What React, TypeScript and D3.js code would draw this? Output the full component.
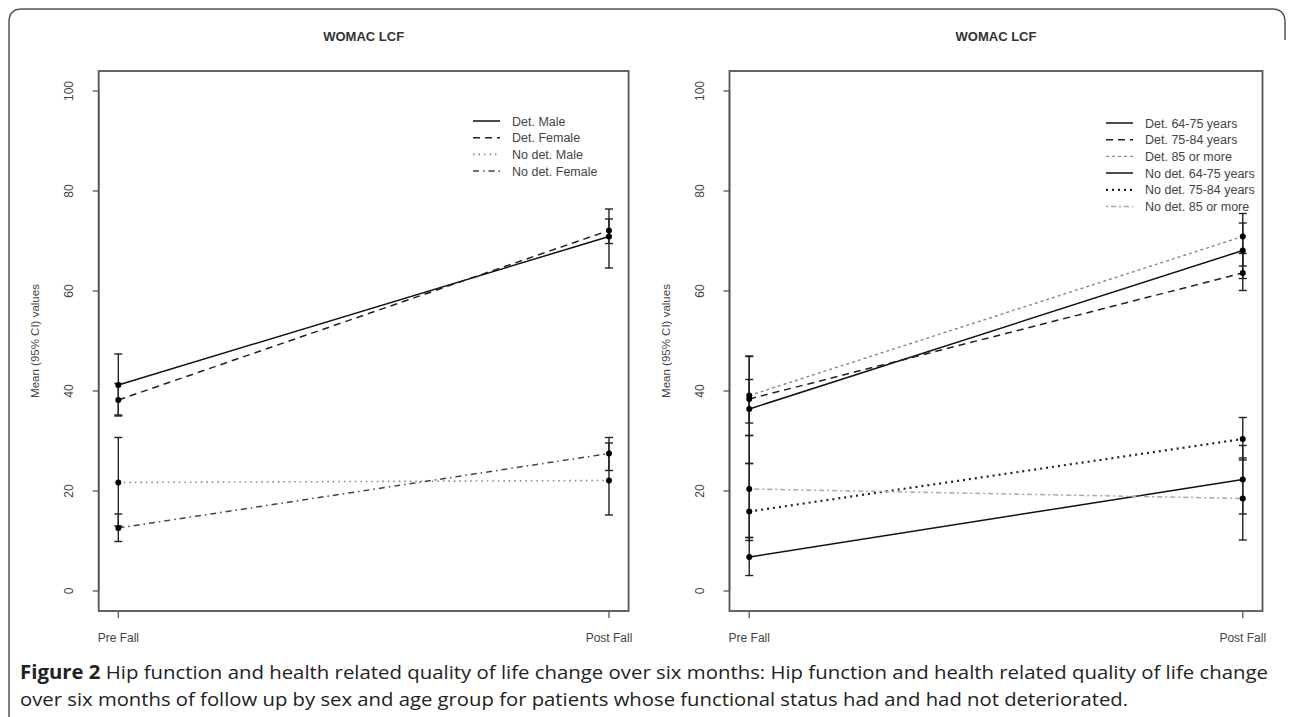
import React from "react";
import * as d3 from "d3";

const timepoints = ["Pre Fall", "Post Fall"];
const yTicks = [0, 20, 40, 60, 80, 100];

const sexLabels = ["Det. Male", "Det. Female", "No det. Male", "No det. Female"];
const sexPre = [41.2, 38.2, 21.7, 12.6];
const sexPost = [70.9, 72.1, 22.1, 27.5];
const sexPreLow = [35.2, 35.0, 13.0, 9.9];
const sexPreHigh = [47.4, 41.5, 30.7, 15.4];
const sexPostLow = [64.6, 69.5, 15.2, 24.1];
const sexPostHigh = [76.4, 74.4, 29.6, 30.7];

const ageLabels = [
  "Det. 64-75 years",
  "Det. 75-84 years",
  "Det. 85 or more",
  "No det. 64-75 years",
  "No det. 75-84 years",
  "No det. 85 or more",
];
const agePre = [36.4, 38.4, 39.1, 6.8, 15.9, 20.4];
const agePost = [68.1, 63.6, 70.9, 22.3, 30.4, 18.5];
const agePreLow = [31.1, 33.6, 25.5, 3.1, 10.1, 10.7];
const agePreHigh = [42.3, 46.9, 47.0, 10.7, 25.5, 31.1];
const agePostLow = [62.5, 60.1, 65.0, 15.4, 26.2, 10.2];
const agePostHigh = [73.6, 67.5, 75.5, 29.1, 34.7, 26.6];

type Style = { color: string; dash: string; width: number };
const sexStyles: Style[] = [
  { color: "#111", dash: "", width: 1.5 },
  { color: "#222", dash: "7,5", width: 1.5 },
  { color: "#888", dash: "1.5,4", width: 1.6 },
  { color: "#444", dash: "6,4,1.5,4", width: 1.5 },
];
const ageStyles: Style[] = [
  { color: "#111", dash: "", width: 1.5 },
  { color: "#222", dash: "7,5", width: 1.5 },
  { color: "#888", dash: "3,3", width: 1.4 },
  { color: "#111", dash: "", width: 1.5 },
  { color: "#222", dash: "2,4", width: 2.2 },
  { color: "#aaa", dash: "2,3,5,3", width: 1.5 },
];

const FONT = "'Liberation Sans', Arial, sans-serif";
const TXT = "#444";

type PanelProps = {
  id: string;
  left: number;
  right: number;
  labels: string[];
  pre: number[];
  post: number[];
  preLow: number[];
  preHigh: number[];
  postLow: number[];
  postHigh: number[];
  styles: Style[];
  legendY: number;
  legendX: number;
};

const TOP = 71;
const BOTTOM = 611;

function Panel(p: PanelProps) {
  const x = d3.scaleLinear().domain([0.96, 2.04]).range([p.left, p.right]);
  const y = d3.scaleLinear().domain([-4, 104]).range([BOTTOM, TOP]);
  const line = d3
    .line<[number, number]>()
    .x((d) => x(d[0]))
    .y((d) => y(d[1]));
  const cx = (p.left + p.right) / 2;
  const cy = (TOP + BOTTOM) / 2;
  const bars: { t: number; lo: number; hi: number; v: number }[] = [];
  p.labels.forEach((_, i) => {
    bars.push({ t: 1, lo: p.preLow[i], hi: p.preHigh[i], v: p.pre[i] });
    bars.push({ t: 2, lo: p.postLow[i], hi: p.postHigh[i], v: p.post[i] });
  });
  return (
    <g>
      <defs>
        <clipPath id={"clip-" + p.id}>
          <rect x={p.left} y={TOP} width={p.right - p.left} height={BOTTOM - TOP} />
        </clipPath>
      </defs>
      <text
        x={cx}
        y={41}
        textAnchor="middle"
        fontFamily={FONT}
        fontWeight="bold"
        fontSize={13}
        fill="#333"
      >
        WOMAC LCF
      </text>
      {p.labels.map((lab, i) => (
        <path
          key={lab}
          d={line([
            [1, p.pre[i]],
            [2, p.post[i]],
          ]) || ""}
          fill="none"
          stroke={p.styles[i].color}
          strokeWidth={p.styles[i].width}
          strokeDasharray={p.styles[i].dash}
        />
      ))}
      {bars.map((b, k) => (
        <g key={k} stroke="#222" strokeWidth={1.4}>
          <line x1={x(b.t)} x2={x(b.t)} y1={y(b.lo)} y2={y(b.hi)} />
          <line x1={x(b.t) - 4} x2={x(b.t) + 4} y1={y(b.lo)} y2={y(b.lo)} />
          <line x1={x(b.t) - 4} x2={x(b.t) + 4} y1={y(b.hi)} y2={y(b.hi)} />
        </g>
      ))}
      {bars.map((b, k) => (
        <circle key={"c" + k} cx={x(b.t)} cy={y(b.v)} r={3} fill="#000" />
      ))}
      <rect
        x={p.left}
        y={TOP}
        width={p.right - p.left}
        height={BOTTOM - TOP}
        fill="none"
        stroke="#555"
        strokeWidth={1.8}
      />
      <line x1={p.left} x2={p.left} y1={y(0)} y2={y(100)} stroke="#555" strokeWidth={1.5} />
      {yTicks.map((t) => (
        <g key={t}>
          <line x1={p.left - 6} x2={p.left} y1={y(t)} y2={y(t)} stroke="#555" strokeWidth={1.3} />
          <text
            transform={`translate(${p.left - 26},${y(t)}) rotate(-90)`}
            textAnchor="middle"
            fontFamily={FONT}
            fontSize={12}
            fill={TXT}
          >
            {t}
          </text>
        </g>
      ))}
      <text
        transform={`translate(${p.left - 60},${cy}) rotate(-90)`}
        textAnchor="middle"
        fontFamily={FONT}
        fontSize={11.5}
        fill={TXT}
      >
        Mean (95% CI) values
      </text>
      {timepoints.map((t, i) => (
        <g key={t}>
          <line x1={x(i + 1)} x2={x(i + 1)} y1={BOTTOM} y2={BOTTOM + 7} stroke="#555" strokeWidth={1.3} />
          <text
            x={x(i + 1)}
            y={BOTTOM + 31}
            textAnchor="middle"
            fontFamily={FONT}
            fontSize={12}
            fill={TXT}
          >
            {t}
          </text>
        </g>
      ))}
      <g clipPath={`url(#clip-${p.id})`}>
        {p.labels.map((lab, i) => {
          const ly = p.legendY + i * 16.7;
          return (
            <g key={lab}>
              <line
                x1={p.legendX}
                x2={p.legendX + 27}
                y1={ly}
                y2={ly}
                stroke={p.styles[i].color}
                strokeWidth={p.styles[i].width}
                strokeDasharray={p.styles[i].dash}
              />
              <text
                x={p.legendX + 39}
                y={ly + 4.5}
                fontFamily={FONT}
                fontSize={12.5}
                fill={TXT}
              >
                {lab}
              </text>
            </g>
          );
        })}
      </g>
    </g>
  );
}

export default function App() {
  return (
    <div style={{ position: "absolute", left: 0, top: 0 }}>
      <svg width={1290} height={717} style={{ display: "block", background: "#fff" }}>
        <path
          d="M 9 717 L 9 22 Q 9 9 22 9 L 1272 9 Q 1285 9 1285 22 L 1285 40"
          fill="none"
          stroke="#555"
          strokeWidth={1.5}
        />
        <Panel
          id="sex"
          left={98.7}
          right={628.6}
          labels={sexLabels}
          pre={sexPre}
          post={sexPost}
          preLow={sexPreLow}
          preHigh={sexPreHigh}
          postLow={sexPostLow}
          postHigh={sexPostHigh}
          styles={sexStyles}
          legendX={473}
          legendY={121}
        />
        <Panel
          id="age"
          left={729.5}
          right={1262.5}
          labels={ageLabels}
          pre={agePre}
          post={agePost}
          preLow={agePreLow}
          preHigh={agePreHigh}
          postLow={agePostLow}
          postHigh={agePostHigh}
          styles={ageStyles}
          legendX={1106}
          legendY={123}
        />
        <text
          x={20}
          y={679}
          fontFamily="'Open Sans', sans-serif"
          fontSize={19}
          fill="#222"
          textLength={1248}
          lengthAdjust="spacingAndGlyphs"
        >
          <tspan fontWeight="bold">Figure 2</tspan> Hip function and health related quality of life change over six months: Hip function and health related quality of life change
        </text>
        <text
          x={20}
          y={706}
          fontFamily="'Open Sans', sans-serif"
          fontSize={19}
          fill="#222"
          textLength={1108}
          lengthAdjust="spacingAndGlyphs"
        >
          over six months of follow up by sex and age group for patients whose functional status had and had not deteriorated.
        </text>
      </svg>
    </div>
  );
}
